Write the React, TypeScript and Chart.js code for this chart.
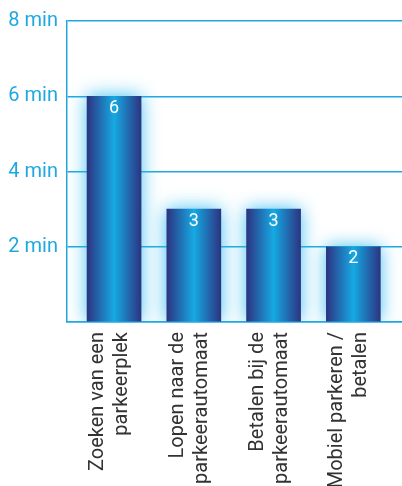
import React, { useEffect, useRef } from "react";
import { Chart, registerables } from "chart.js";

Chart.register(...registerables);

const categories: string[][] = [
  ["Zoeken van een", "parkeerplek"],
  ["Lopen naar de", "parkeerautomaat"],
  ["Betalen bij de", "parkeerautomaat"],
  ["Mobiel parkeren /", "betalen"],
];
const minutes: number[] = [6, 3, 3, 2];
const valueLabels: string[] = ["6", "3", "3", "2"];
const yTicks: number[] = [0, 2, 4, 6, 8];

const CYAN = "#1ea8e0";
const FONT = "Roboto, 'Open Sans', sans-serif";
const BAR_W = 54;

const barStyle = {
  id: "barStyle",
  beforeDatasetsDraw(chart: any) {
    const ctx = chart.ctx;
    ctx.save();
    ctx.shadowColor = "rgba(40,185,240,0.9)";
    ctx.shadowBlur = 18;
    ctx.shadowOffsetX = 0;
    ctx.shadowOffsetY = 0;
  },
  afterDatasetsDraw(chart: any) {
    const ctx = chart.ctx;
    ctx.restore();
    const meta = chart.getDatasetMeta(0);
    ctx.save();
    ctx.fillStyle = "#ffffff";
    ctx.font = `18px ${FONT}`;
    ctx.textAlign = "center";
    ctx.textBaseline = "middle";
    meta.data.forEach((bar: any, i: number) => {
      ctx.fillText(valueLabels[i], bar.x, bar.y + 12);
    });
    ctx.restore();
  },
};

export default function App() {
  const ref = useRef<HTMLCanvasElement>(null);
  useEffect(() => {
    if (!ref.current) return;
    const chart = new Chart(ref.current, {
      type: "bar",
      data: {
        datasets: [
          {
            data: minutes.map((v, i) => ({ x: i, y: v })),
            backgroundColor: (c: any) => {
              const xs = c.chart.scales?.x;
              if (!xs || c.dataIndex === undefined) return "#1e6fb5";
              const cx = xs.getPixelForValue(c.dataIndex);
              if (!isFinite(cx)) return "#1e6fb5";
              const g = c.chart.ctx.createLinearGradient(cx - BAR_W / 2, 0, cx + BAR_W / 2, 0);
              g.addColorStop(0, "#2c3482");
              g.addColorStop(0.5, "#16a9e3");
              g.addColorStop(1, "#2c3482");
              return g;
            },
            barThickness: BAR_W,
            borderWidth: 0,
          },
        ],
      },
      options: {
        animation: false,
        responsive: true,
        maintainAspectRatio: false,
        layout: { padding: { top: 17, right: 0, left: 0, bottom: 0 } },
        plugins: {
          legend: { display: false },
          tooltip: { enabled: false },
        },
        scales: {
          x: {
            type: "linear",
            min: -0.59,
            max: 3.61,
            offset: false,
            afterBuildTicks: (scale: any) => {
              scale.ticks = categories.map((_, i) => ({ value: i }));
            },
            afterFit: (scale: any) => {
              scale.height = 164;
              scale.paddingLeft = 0;
              scale.paddingRight = 0;
            },
            grid: { display: false, drawTicks: false, offset: false },
            border: { display: true, color: CYAN, width: 1.5 },
            ticks: {
              autoSkip: false,
              minRotation: 90,
              maxRotation: 90,
              padding: 10,
              labelOffset: -16,
              color: "#333333",
              font: { family: FONT, size: 20, lineHeight: 1.2 },
              callback: (v: any) => categories[v as number] ?? "",
            },
          },
          y: {
            min: 0,
            max: 8,
            afterBuildTicks: (scale: any) => {
              scale.ticks = yTicks.map((v) => ({ value: v }));
            },
            afterFit: (scale: any) => {
              scale.width = 67;
            },
            grid: { color: CYAN, lineWidth: 1.5, drawTicks: false },
            border: { display: true, color: CYAN, width: 1.5 },
            ticks: {
              padding: 9,
              color: CYAN,
              font: { family: FONT, size: 20 },
              callback: (v: any) => (v === 0 ? "" : `${v} min`),
            },
          },
        },
      },
      plugins: [barStyle],
    });
    return () => chart.destroy();
  }, []);
  return (
    <div style={{ position: "absolute", left: 0, top: 0, width: 402, height: 486, background: "#fff" }}>
      <canvas ref={ref} />
    </div>
  );
}
